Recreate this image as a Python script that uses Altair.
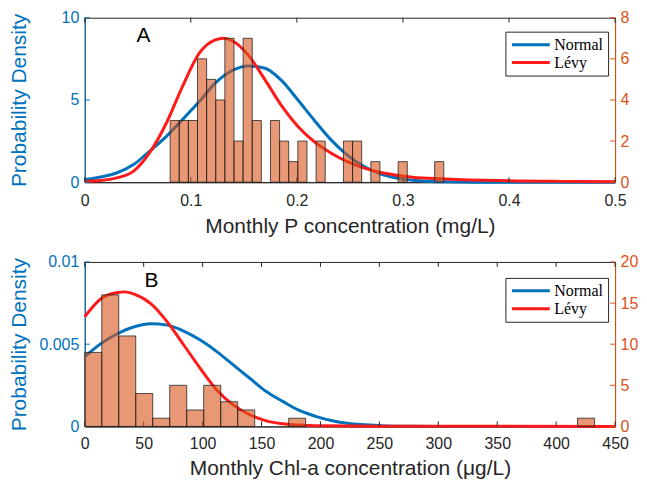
import altair as alt
import pandas as pd

BLUE = "#0072BD"
ORANGE = "#D95319"
RED = "#FF1A1A"
DARK = "#262626"
SANS = "Liberation Sans"
SERIF = "Liberation Serif"
W, H = 532, 165
LABEL_EXPR = "'' + datum.value"

series_names = ["Normal", "Lévy"]

# ---------------- Panel A : Monthly P concentration ----------------
a_edges = [0.0805, 0.0891, 0.0977, 0.1063, 0.1149, 0.1235, 0.1321, 0.1407,
           0.1493, 0.1579, 0.1665, 0.1751, 0.1837, 0.1923, 0.2009, 0.2095,
           0.2181, 0.2267, 0.2353, 0.2439, 0.2525, 0.2611, 0.2697, 0.2783,
           0.2869, 0.2955, 0.3041, 0.3127, 0.3213, 0.3299, 0.3385]
a_counts = [3, 3, 3, 6, 5, 4, 7, 2, 7, 3, 0, 3, 2, 1, 2, 0, 2, 0, 0, 2,
            2, 0, 1, 0, 0, 1, 0, 0, 0, 1]
a_norm_x = [0, 0.015, 0.030, 0.046, 0.061, 0.077, 0.092, 0.108, 0.123, 0.139,
            0.154, 0.170, 0.185, 0.201, 0.216, 0.232, 0.247, 0.263, 0.278,
            0.294, 0.309, 0.34, 0.38, 0.5]
a_norm_y = [0.16, 0.32, 0.56, 1.07, 1.88, 2.79, 3.8, 4.9, 6.02, 6.79,
            7.07, 6.93, 6.22, 5.0, 3.8, 2.59, 1.68, 0.97, 0.53,
            0.26, 0.12, 0.02, 0.0, 0.0]
a_levy_x = [0, 0.015, 0.030, 0.046, 0.061, 0.077, 0.092, 0.108, 0.123, 0.131,
            0.139, 0.154, 0.170, 0.185, 0.201, 0.216, 0.232, 0.247, 0.263,
            0.278, 0.294, 0.309, 0.34, 0.39, 0.45, 0.5]
a_levy_y = [0.05, 0.1, 0.26, 0.67, 1.78, 3.6, 5.8, 7.84, 8.65, 8.75,
            8.6, 7.74, 6.22, 4.7, 3.39, 2.48, 1.78, 1.27, 0.87,
            0.6, 0.42, 0.3, 0.2, 0.1, 0.05, 0.03]
a_xticks = [0, 0.1, 0.2, 0.3, 0.4, 0.5]
a_dens_ticks = [0, 5, 10]
a_cnt_ticks = [0, 2, 4, 6, 8]

# ---------------- Panel B : Monthly Chl-a concentration ----------------
b_edges = [0, 14.42, 28.84, 43.26, 57.68, 72.10, 86.52, 100.94, 115.36,
           129.78, 144.20, 158.62, 173.04, 187.46, 201.88, 216.30, 230.72,
           245.14, 259.56, 273.98, 288.40, 302.82, 317.24, 331.66, 346.08,
           360.50, 374.92, 389.34, 403.76, 418.18, 432.60]
b_counts = [9, 16, 11, 4, 1, 5, 2, 5, 3, 2, 0, 0, 1, 0, 0, 0, 0, 0, 0, 0,
            0, 0, 0, 0, 0, 0, 0, 0, 0, 1]
b_norm_x = [0, 14, 28, 42, 56, 70, 84, 98, 112, 126, 140, 154, 168, 182,
            196, 210, 224, 238, 252, 270, 300, 450]
b_norm_y = [0.00424, 0.00505, 0.00565, 0.00606, 0.00624, 0.00616, 0.0058,
            0.00525, 0.00455, 0.00374, 0.00293, 0.00212, 0.00152, 0.00097,
            0.00061, 0.00034, 0.00018, 0.0001, 0.00004, 0.00001, 0.0, 0.0]
b_levy_x = [0, 14, 28, 33.5, 42, 56, 70, 84, 98, 112, 126, 140, 154, 168,
            182, 196, 230, 300, 450]
b_levy_y = [0.00667, 0.00778, 0.00814, 0.00818, 0.00804, 0.00747, 0.00636,
            0.00495, 0.00353, 0.00222, 0.00131, 0.00071, 0.00034, 0.00016,
            0.00008, 0.00004, 0.00002, 0.00001, 0.0]
b_xticks = [0, 50, 100, 150, 200, 250, 300, 350, 400, 450]
b_dens_ticks = [0, 0.005, 0.01]
b_cnt_ticks = [0, 5, 10, 15, 20]


def panel(edges, counts, nx, ny, lx, ly, xdom, xticks, ddom, dticks, cdom,
          cticks, xtitle, letter, letter_xy, legend_xy, lab_pad, tit_pad):
    bars_df = pd.DataFrame({"lo": edges[:-1], "hi": edges[1:], "c": counts})
    curve_df = pd.concat([
        pd.DataFrame({"x": nx, "y": ny, "series": series_names[0]}),
        pd.DataFrame({"x": lx, "y": ly, "series": series_names[1]}),
    ])
    xscale = alt.Scale(domain=xdom, nice=False, zero=False)
    xaxis = alt.Axis(values=xticks, labelExpr=LABEL_EXPR, title=xtitle,
                     ticks=False, tickSize=0, labelPadding=lab_pad,
                     titlePadding=tit_pad,
                     labelFlush=False, labelOverlap=False, grid=False,
                     domainColor=DARK, labelColor=DARK, titleColor=DARK)
    dscale = alt.Scale(domain=ddom, nice=False, zero=False)
    daxis = alt.Axis(values=dticks, labelExpr=LABEL_EXPR,
                     title="Probability Density",
                     orient="left", ticks=False, tickSize=0, labelPadding=6,
                     minExtent=49, maxExtent=49, titlePadding=6, grid=False,
                     labelOverlap=False,
                     domainColor=BLUE, labelColor=BLUE, titleColor=BLUE)
    cscale = alt.Scale(domain=cdom, nice=False, zero=False)
    caxis = alt.Axis(values=cticks, labelExpr=LABEL_EXPR, title=None,
                     orient="right", labelOverlap=False,
                     ticks=False, tickSize=0, labelPadding=5, grid=False,
                     domainColor=ORANGE, labelColor=ORANGE)
    color = alt.Color(
        "series:N",
        scale=alt.Scale(domain=series_names, range=[BLUE, RED]),
        legend=alt.Legend(title=None, orient="none", legendX=legend_xy[0],
                          legendY=legend_xy[1], direction="vertical",
                          strokeColor=DARK, fillColor="white", padding=5,
                          symbolType="stroke", symbolSize=1444,
                          symbolStrokeWidth=3, clipHeight=16, rowPadding=2,
                          labelFont=SERIF, labelFontSize=16,
                          labelColor="black", labelOffset=3, offset=0),
    )

    base_curve = alt.Chart(curve_df).mark_line(
        strokeWidth=3, interpolate="monotone").encode(
        x=alt.X("x:Q", scale=xscale, axis=xaxis),
        y=alt.Y("y:Q", scale=dscale, axis=daxis),
        color=color,
    )
    normal_line = base_curve.transform_filter(
        alt.datum.series == series_names[0])
    levy_line = base_curve.transform_filter(
        alt.datum.series == series_names[1])

    dt_df = pd.DataFrame({"v": dticks})
    left_ticks = alt.Chart(dt_df).mark_rule(color=BLUE, strokeWidth=1).encode(
        y=alt.Y("v:Q", scale=dscale, axis=daxis),
        x=alt.value(0), x2=alt.value(5))
    xt_df = pd.DataFrame({"v": xticks})
    top_ticks = alt.Chart(xt_df).mark_rule(color=DARK, strokeWidth=1).encode(
        x=alt.X("v:Q", scale=xscale, axis=xaxis),
        y=alt.value(0), y2=alt.value(5))
    bottom_ticks = alt.Chart(xt_df).mark_rule(color=DARK, strokeWidth=1).encode(
        x=alt.X("v:Q", scale=xscale, axis=xaxis),
        y=alt.value(H - 5), y2=alt.value(H))

    left_group = alt.layer(normal_line, levy_line, left_ticks, top_ticks,
                           bottom_ticks)

    bars = alt.Chart(bars_df).transform_filter("datum.c > 0").mark_bar(
        fill=ORANGE, fillOpacity=0.6, stroke="#1e1e1e", strokeWidth=0.9,
        strokeOpacity=0.85).encode(
        x=alt.X("lo:Q", scale=xscale, axis=xaxis),
        x2="hi:Q",
        y=alt.Y("c:Q", scale=cscale, axis=caxis),
        y2=alt.datum(0),
    )
    ct_df = pd.DataFrame({"v": cticks})
    right_ticks = alt.Chart(ct_df).mark_rule(color=ORANGE, strokeWidth=1).encode(
        y=alt.Y("v:Q", scale=cscale, axis=caxis),
        x=alt.value(W - 5), x2=alt.value(W))
    right_group = alt.layer(bars, right_ticks)

    letter_txt = alt.Chart(pd.DataFrame({"t": [letter]})).mark_text(
        font=SANS, fontSize=21, color="black").encode(
        text="t:N", x=alt.value(letter_xy[0]), y=alt.value(letter_xy[1]))

    return alt.layer(left_group, right_group, letter_txt).resolve_scale(
        y="independent").properties(width=W, height=H)


pA = panel(a_edges, a_counts, a_norm_x, a_norm_y, a_levy_x, a_levy_y,
           [0, 0.5], a_xticks, [0, 10], a_dens_ticks, [0, 8], a_cnt_ticks,
           "Monthly P concentration (mg/L)", "A", (59, 18), (422, 14), 10, 7)
pB = panel(b_edges, b_counts, b_norm_x, b_norm_y, b_levy_x, b_levy_y,
           [0, 450], b_xticks, [0, 0.01], b_dens_ticks, [0, 20], b_cnt_ticks,
           "Monthly Chl-a concentration (μg/L)", "B", (67, 19), (422, 16), 9, 6)

chart = alt.vconcat(pA, pB, spacing=16).resolve_scale(
    color="independent").resolve_legend(color="independent").properties(
    padding={"left": 0, "top": 0, "right": 0, "bottom": 0}
).configure_view(stroke=DARK, strokeWidth=1).configure_axis(
    labelFont=SANS, labelFontSize=16, titleFont=SANS, titleFontSize=21,
    titleFontWeight="normal", domainWidth=1)

chart.save("out.html", embed_options={"renderer": "svg", "actions": False})
